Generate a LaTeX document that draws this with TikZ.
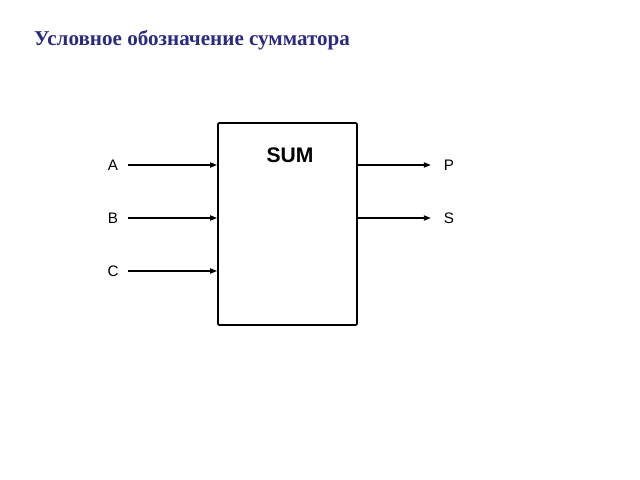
\documentclass[tikz,border=0pt]{standalone}
\usepackage{fontspec}
\setmainfont{Liberation Serif}
\setsansfont{Liberation Sans}
\usetikzlibrary{arrows.meta}
\definecolor{title_blue}{HTML}{2A2A80}

\begin{document}
\begin{tikzpicture}[x=0.03cm, y=-0.03cm]
	\useasboundingbox (0,0) rectangle (640,480);
	\node [anchor=west, title_blue, font=\bfseries\fontsize{18}{21}\selectfont] (title) at (30,40) {Условное обозначение сумматора};
	\node [draw, line width=1.6pt, rounded corners=1pt, minimum width=4.17cm, minimum height=6.06cm] (sum) at (287.5,224) {};
	\draw (290,155) node [font=\sffamily\bfseries\fontsize{18}{21}\selectfont] (sumtext) {SUM};
	\foreach \n/\y in {A/165, B/218, C/271} {
		\node [font=\sffamily\fontsize{13}{15}\selectfont, inner xsep=8pt] (in\n) at (113,\y) {\n};
		\draw [line width=1.1pt, -{Triangle[length=6pt, width=4.5pt]}] (in\n.east) -- (in\n -| sum.west);
	}
	\foreach \n/\y in {P/165, S/218} {
		\node [font=\sffamily\fontsize{13}{15}\selectfont, inner xsep=11pt] (out\n) at (449,\y) {\n};
		\draw [line width=1.1pt, -{Triangle[length=6pt, width=4.5pt]}] (out\n -| sum.east) -- (out\n.west);
	}
\end{tikzpicture}
\end{document}
